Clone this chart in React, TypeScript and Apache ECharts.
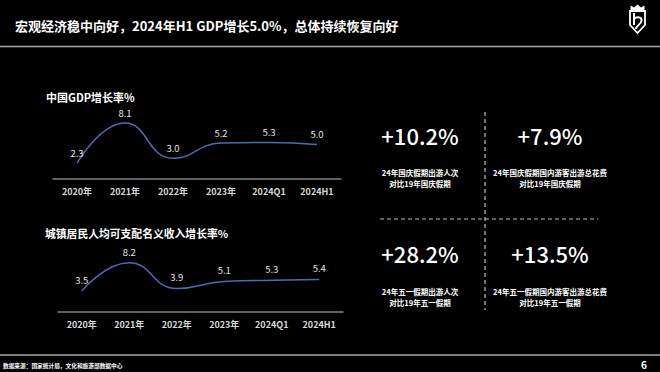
import React, { useEffect, useRef } from "react";
import * as echarts from "echarts";

const categories = ["2020年", "2021年", "2022年", "2023年", "2024Q1", "2024H1"];
const gdpValues = [2.3, 8.1, 3.0, 5.2, 5.3, 5.0];
const incomeValues = [3.5, 8.2, 3.9, 5.1, 5.3, 5.4];

const pageTitle = "宏观经济稳中向好，2024年H1 GDP增长5.0%，总体持续恢复向好";
const gdpTitle = "中国GDP增长率%";
const incomeTitle = "城镇居民人均可支配名义收入增长率%";
const sourceText = "数据来源：国家统计局，文化和旅游部数据中心";
const pageNumber = "6";

const statValues = ["+10.2%", "+7.9%", "+28.2%", "+13.5%"];
const statLine1 = [
  "24年国庆假期出游人次",
  "24年国庆假期国内游客出游总花费",
  "24年五一假期出游人次",
  "24年五一假期国内游客出游总花费",
];
const statLine2 = ["对比19年国庆假期", "对比19年国庆假期", "对比19年五一假期", "对比19年五一假期"];

const FONT = '"Noto Sans CJK SC", "Noto Sans", sans-serif';

let registered = false;
function registerLogo() {
  if (registered) return;
  registered = true;
  echarts.graphic.registerShape(
    "logoInner",
    echarts.graphic.extendPath("M4 3 L4 15 M4 9 C7 6, 12 7, 11.5 11 C11 15, 6 15, 6 19", {})
  );
}

export default function App() {
  const ref = useRef<HTMLDivElement>(null);
  useEffect(() => {
    document.body.style.margin = "0";
    document.body.style.background = "#000";
    registerLogo();
    const chart = echarts.init(ref.current!, null, { renderer: "svg" });

    const statPos = [
      { x: 420, y: 135, y1: 172, y2: 183 },
      { x: 550, y: 135, y1: 172, y2: 183 },
      { x: 420, y: 253, y1: 291, y2: 302 },
      { x: 550, y: 253, y1: 291, y2: 302 },
    ];
    const makeText = (text: string, x: number, y: number, size: number, weight: string, fill: string, align: string) => ({
      type: "text",
      x,
      y,
      style: {
        text,
        fill,
        fontSize: size,
        fontWeight: weight,
        fontFamily: FONT,
        textAlign: align,
        align,
        textVerticalAlign: "middle",
        verticalAlign: "middle",
      },
    });

    const graphics: any[] = [
      makeText(pageTitle, 15, 25, 13, "bold", "#ffffff", "left"),
      { type: "line", shape: { x1: 0, y1: 46.5, x2: 660, y2: 46.5 }, style: { stroke: "#a6a6a6", lineWidth: 1.5 } },
      { type: "line", shape: { x1: 0, y1: 355, x2: 660, y2: 355 }, style: { stroke: "#a6a6a6", lineWidth: 1.5 } },
      makeText(sourceText, 3, 365, 5.7, "bold", "#ffffff", "left"),
      makeText(pageNumber, 641, 364, 10, "bold", "#ffffff", "left"),
      makeText(gdpTitle, 46, 97, 11, "bold", "#ffffff", "left"),
      makeText(incomeTitle, 45, 233, 10.8, "bold", "#ffffff", "left"),
      {
        type: "line",
        shape: { x1: 485, y1: 112, x2: 485, y2: 310 },
        style: { stroke: "#bfbfbf", lineWidth: 1.2, lineDash: [4, 3] },
      },
      {
        type: "line",
        shape: { x1: 380, y1: 219, x2: 598, y2: 219 },
        style: { stroke: "#bfbfbf", lineWidth: 1.2, lineDash: [4, 3] },
      },
      {
        type: "polygon",
        shape: { points: [[630, 11], [645, 11], [645, 25], [637.5, 33], [630, 25]] },
        style: { fill: "none", stroke: "#ffffff", lineWidth: 1.8 },
      },
      {
        type: "polygon",
        shape: { points: [[630.5, 10], [630.5, 5.5], [634, 7.5], [637.5, 4.5], [641, 7.5], [644.5, 5.5], [644.5, 10]] },
        style: { fill: "#ffffff" },
      },
      {
        type: "logoInner",
        x: 630,
        y: 10,
        style: { fill: "none", stroke: "#ffffff", lineWidth: 2 },
      },
    ];
    statValues.forEach((v, i) => {
      const p = statPos[i];
      graphics.push(makeText(v, p.x, p.y, 22, "500", "#ffffff", "center"));
      graphics.push(makeText(statLine1[i], p.x, p.y1, 7.5, "bold", "#ffffff", "center"));
      graphics.push(makeText(statLine2[i], p.x, p.y2, 7.5, "bold", "#ffffff", "center"));
    });

    const xAxisCommon = {
      type: "category",
      data: categories,
      boundaryGap: true,
      axisLine: { lineStyle: { color: "#808080", width: 1.5 } },
      axisTick: { show: false },
      axisLabel: { color: "#d9d9d9", fontSize: 9, fontWeight: "bold", margin: 8, fontFamily: FONT },
      splitLine: { show: false },
    };
    const yAxisCommon = { type: "value", min: 0, max: 10, show: false };
    const seriesCommon = (data: number[], xi: number, dist: number) => ({
      type: "line",
      xAxisIndex: xi,
      yAxisIndex: xi,
      data,
      smooth: 0.5,
      symbol: "circle",
      symbolSize: 1,
      itemStyle: { color: "rgba(0,0,0,0)" },
      lineStyle: { color: "#4a6cb3", width: 1.5 },
      label: {
        show: true,
        position: "top",
        distance: dist,
        color: "#e6e6e6",
        fontSize: 9.5,
        fontFamily: FONT,
        formatter: (p: any) => Number(p.value).toFixed(1),
      },
    });

    chart.setOption({
      animation: false,
      backgroundColor: "#000000",
      textStyle: { fontFamily: FONT },
      grid: [
        { left: 53, top: 110, width: 288, height: 69 },
        { left: 58, top: 252, width: 285, height: 60 },
      ],
      xAxis: [
        { ...xAxisCommon, gridIndex: 0 },
        { ...xAxisCommon, gridIndex: 1 },
      ],
      yAxis: [
        { ...yAxisCommon, gridIndex: 0 },
        { ...yAxisCommon, gridIndex: 1 },
      ],
      series: [seriesCommon(gdpValues, 0, 5), seriesCommon(incomeValues, 1, 6)],
      graphic: graphics,
    });
    return () => chart.dispose();
  }, []);
  return <div ref={ref} style={{ position: "fixed", left: 0, top: 0, width: 660, height: 372 }} />;
}
